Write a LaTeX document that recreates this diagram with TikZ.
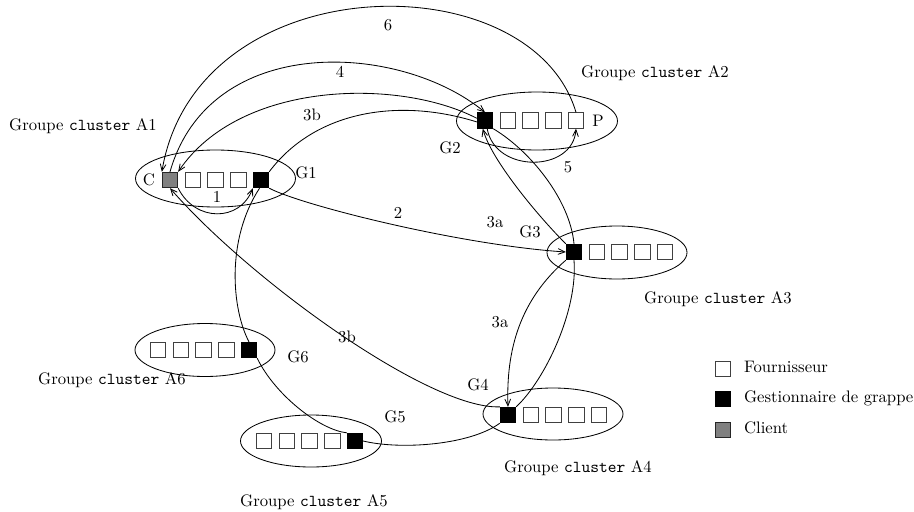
\documentclass[tikz,border=0pt]{standalone}
\usepackage{tikz}
\usetikzlibrary{arrows,shapes.geometric}
\definecolor{clientgray}{gray}{0.5}
\tikzset{every path/.style={black,line width=0.5pt}, >=angle 45}
\tikzset{fourn/.style={draw=black!75,fill=white,minimum size=9.3pt,inner sep=0pt},
         gest/.style={fourn,draw=black,fill=black},
         client/.style={fourn,draw=black!85,fill=clientgray},
         grappe/.style={ellipse,draw,inner sep=0pt},
         etiq/.style={inner sep=1pt}}

\begin{document}
\begin{tikzpicture}[x=0.6pt,y=-0.6pt]
   \useasboundingbox (0,0) rectangle (914,511);
   % groupe A1
   \begin{scope}[shift={(170,180)}]
    \node[grappe,minimum width=96pt,minimum height=34.2pt] (A1) at (45.5,-1.5) {};
    \node[client] (C)    at ( 0.00,0) {};
    \node[fourn]  (A1f2) at (22.75,0) {};
    \node[fourn]  (A1f3) at (45.50,0) {};
    \node[fourn]  (A1f4) at (68.25,0) {};
    \node[gest]   (G1)   at (91.00,0) {};
    \node[etiq] (labC)  at (-21,0) {C};
    \node[etiq] (labG1) at (136,-7) {G1};
    \node[etiq] (grpA1) at (-87,-54) {Groupe \texttt{cluster} A1};
   \end{scope}
   % groupe A2
   \begin{scope}[shift={(485,120.5)}]
    \node[grappe,minimum width=96.6pt,minimum height=34.8pt] (A2) at (52,0.5) {};
    \node[gest]  (G2)   at ( 0.00,0) {};
    \node[fourn] (A2f2) at (22.75,0) {};
    \node[fourn] (A2f3) at (45.50,0) {};
    \node[fourn] (A2f4) at (68.25,0) {};
    \node[fourn] (P)    at (91.00,0) {};
    \node[etiq] (labG2) at (-35,27.5) {G2};
    \node[etiq] (labP)  at (113,0) {P};
    \node[etiq] (grpA2) at (170,-47.5) {Groupe \texttt{cluster} A2};
   \end{scope}
   % groupe A3
   \begin{scope}[shift={(574,252)}]
    \node[grappe,minimum width=84pt,minimum height=31.8pt] (A3) at (43,0.5) {};
    \node[gest]  (G3)   at ( 0.00,0) {};
    \node[fourn] (A3f2) at (22.75,0) {};
    \node[fourn] (A3f3) at (45.50,0) {};
    \node[fourn] (A3f4) at (68.25,0) {};
    \node[fourn] (A3f5) at (91.00,0) {};
    \node[etiq] (labG3) at (-44,-20) {G3};
    \node[etiq] (grpA3) at (144,47) {Groupe \texttt{cluster} A3};
   \end{scope}
   % groupe A4
   \begin{scope}[shift={(508,415)}]
    \node[grappe,minimum width=84pt,minimum height=31.2pt] (A4) at (45,-1) {};
    \node[gest]  (G4)   at ( 0.00,0) {};
    \node[fourn] (A4f2) at (22.75,0) {};
    \node[fourn] (A4f3) at (45.50,0) {};
    \node[fourn] (A4f4) at (68.25,0) {};
    \node[fourn] (A4f5) at (91.00,0) {};
    \node[etiq] (labG4) at (-30,-30) {G4};
    \node[etiq] (grpA4) at (70,53) {Groupe \texttt{cluster} A4};
   \end{scope}
   % groupe A5
   \begin{scope}[shift={(264,441)}]
    \node[grappe,minimum width=84.6pt,minimum height=31.2pt] (A5) at (47,0) {};
    \node[fourn] (A5f1) at ( 0.00,0) {};
    \node[fourn] (A5f2) at (22.75,0) {};
    \node[fourn] (A5f3) at (45.50,0) {};
    \node[fourn] (A5f4) at (68.25,0) {};
    \node[gest]  (G5)   at (91.00,0) {};
    \node[etiq] (labG5) at (131,-24) {G5};
    \node[etiq] (grpA5) at (50,61) {Groupe \texttt{cluster} A5};
   \end{scope}
   % groupe A6
   \begin{scope}[shift={(158,350)}]
    \node[grappe,minimum width=84pt,minimum height=31.8pt] (A6) at (47,0) {};
    \node[fourn] (A6f1) at ( 0.00,0) {};
    \node[fourn] (A6f2) at (22.75,0) {};
    \node[fourn] (A6f3) at (45.50,0) {};
    \node[fourn] (A6f4) at (68.25,0) {};
    \node[gest]  (G6)   at (91.00,0) {};
    \node[etiq] (labG6) at (140,7) {G6};
    \node[etiq] (grpA6) at (-46,30) {Groupe \texttt{cluster} A6};
   \end{scope}

   % anneau des gestionnaires
   \draw (G1.north east) .. controls +(45,-60) and +(-80,-25) .. (G2.190);
   \draw (G2.south east) .. controls +(37,22) and +(-4,-44) .. (G3.north);
   \draw (G3.south) .. controls +(4,50) and +(29,-27) .. (G4.north east);
   \draw (G4.south west) .. controls +(-30,22) and +(37,9) .. (G5.east);
   \draw (G6.south east) .. controls +(18,37) and +(-27,-3) .. (G5.north west);
   \draw (G1.-100) .. controls +(-34,52) and +(-17,-32) .. (G6.north);

   % messages
   \draw[->] (C.south east) .. controls +(17,34) and +(-13,34) .. (G1.south west);
   \draw[->] (G1.south east) .. controls +(32,17) and +(-106,-7) .. (G3.west);
   \draw[->] (G3.north west) .. controls +(-30,-30) and +(8,30) .. (G2.-105);
   \draw[->] (G3.south west) .. controls +(-46,40) and +(-2,-57) .. (G4.north);
   \draw[->] (G2.165) .. controls +(-77,-40) and +(62,-92) .. (C.north east);
   \draw[->] (G4.north west) .. controls +(-70,3) and +(80,92) .. (C.south);
   \draw[->] (C.north) .. controls +(40,-140) and +(-85,-70) .. (G2.north);
   \draw[->] (G2.-75) .. controls +(8,45) and +(-3,44) .. (P.south);
   \draw[->] (P.north) .. controls +(-45,-152) and +(35,-207) .. (C.north west);

   \node[etiq] (m1)  at (217,197) {1};
   \node[etiq] (m2)  at (398,213) {2};
   \node[etiq] (m3a) at (495,222) {3a};
   \node[etiq] (m3A) at (500,322) {3a};
   \node[etiq] (m3b) at (312,115) {3b};
   \node[etiq] (m3B) at (347,337) {3b};
   \node[etiq] (m4)  at (340,72) {4};
   \node[etiq] (m5)  at (568,167) {5};
   \node[etiq] (m6)  at (388,25) {6};

   % legende
   \node[fourn]  (legF) at (723,369) {};
   \node[gest]   (legG) at (723,399) {};
   \node[client] (legC) at (723,430) {};
   \node[etiq,anchor=west] (txtF) at (742,367) {Fournisseur};
   \node[etiq,anchor=west] (txtG) at (742,398) {Gestionnaire de grappe};
   \node[etiq,anchor=west] (txtC) at (742,428) {Client};
\end{tikzpicture}
\end{document}
